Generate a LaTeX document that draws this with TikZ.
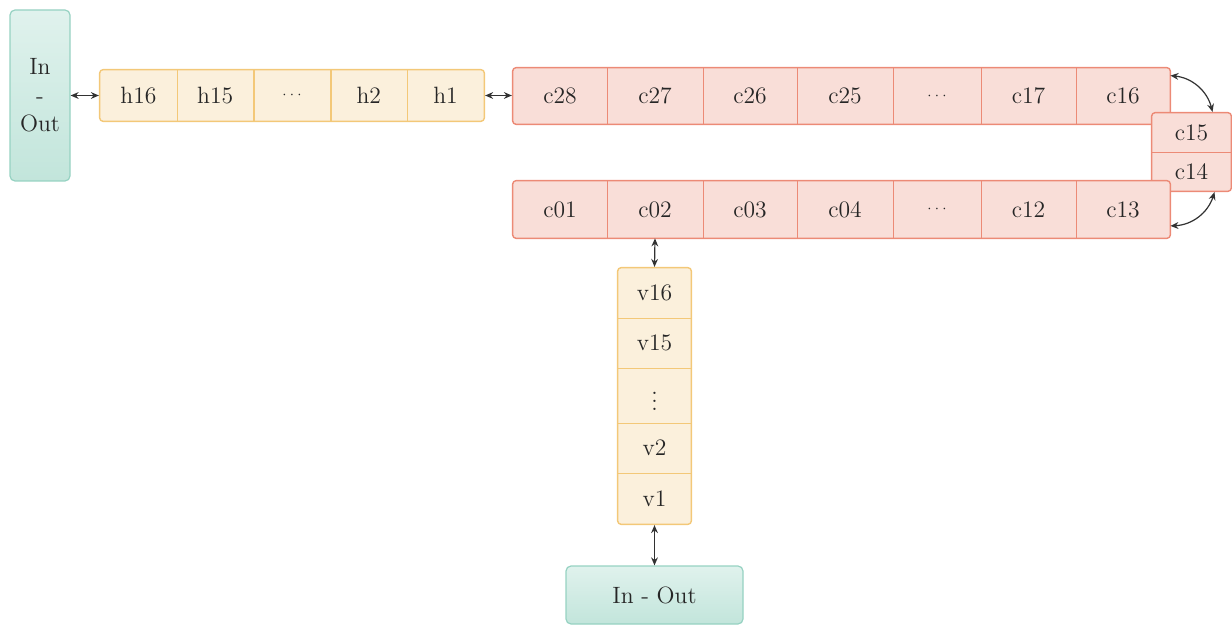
\documentclass[tikz,border=0pt]{standalone}
\usetikzlibrary{arrows.meta,fit,backgrounds}
\definecolor{ylwfill}{RGB}{251,240,220}
\definecolor{ylwdraw}{RGB}{243,200,120}
\definecolor{redfill}{RGB}{249,222,216}
\definecolor{reddraw}{RGB}{236,138,118}
\definecolor{grntop}{RGB}{224,242,237}
\definecolor{grnbot}{RGB}{194,229,219}
\definecolor{grndraw}{RGB}{150,210,194}
\definecolor{arrcol}{RGB}{50,50,50}
\newcommand{\smdots}{{\fontsize{7.5}{8}\selectfont$\cdots$}}
\begin{document}
\begin{tikzpicture}[x=0.5pt,y=-0.5pt,
  font=\fontsize{11.8}{14.2}\selectfont,
  cell/.style={inner sep=0pt, text=black!85},
  ygrp/.style={fill=ylwfill, draw=ylwdraw, line width=0.7pt, rounded corners=1.8pt, inner sep=0pt},
  rgrp/.style={fill=redfill, draw=reddraw, line width=0.7pt, rounded corners=1.8pt, inner sep=0pt},
  ydiv/.style={draw=ylwdraw, line width=0.7pt},
  rdiv/.style={draw=reddraw, line width=0.7pt},
  iobox/.style={top color=grntop, bottom color=grnbot, draw=grndraw, line width=0.6pt,
    rounded corners=2.5pt, inner sep=0pt, align=center, text=black!85},
  biarrow/.style={{Stealth[length=4pt,width=3.4pt]}-{Stealth[length=4pt,width=3.4pt]},
    line width=0.6pt, draw=arrcol},
]
\useasboundingbox (0,0) rectangle (1232,625);

% green in-out boxes
\node[iobox, minimum width=30pt, minimum height=85.5pt] (ioL) at (40,95.5) {In\\-\\Out};
\node[iobox, minimum width=88.5pt, minimum height=29pt] (ioB) at (654.5,595) {In - Out};

% horizontal yellow row
\foreach \n/\t/\x in {h16/h16/138.4, h15/h15/215.2, hd/\smdots/292, h2/h2/368.8, h1/h1/445.6}
  \node[cell, minimum width=38.4pt, minimum height=25.5pt] (\n) at (\x,95.5) {\t};

% top red row
\foreach \n/\t/\x/\w in {c28/c28/560/47, c27/c27/655/48, c26/c26/750/47, c25/c25/845/48,
    cdt/\smdots/937/44, c17/c17/1028.5/47.5, c16/c16/1123/47}
  \node[cell, minimum width=\w pt, minimum height=28pt] (\n) at (\x,96) {\t};

% bottom red row
\foreach \n/\t/\x/\w in {c01/c01/560/47, c02/c02/655/48, c03/c03/750/47, c04/c04/845/48,
    cdb/\smdots/937/44, c12/c12/1028.5/47.5, c13/c13/1123/47}
  \node[cell, minimum width=\w pt, minimum height=28.5pt] (\n) at (\x,209.5) {\t};

% turn cells
\node[cell, minimum width=39.5pt, minimum height=19.5pt] (c15) at (1191.5,132.5) {c15};
\node[cell, minimum width=39.5pt, minimum height=19.5pt] (c14) at (1191.5,171.5) {c14};

% vertical yellow column
\foreach \n/\t/\y/\h in {v16/v16/293/25, v15/v15/343/25, vd/$\vdots$/395.5/27.5, v2/v2/448/25, v1/v1/498.5/25.5}
  \node[cell, minimum width=36.5pt, minimum height=\h pt] (\n) at (654.5,\y) {\t};

\begin{scope}[on background layer]
  \node[ygrp, fit=(h16)(h1)] (hrow) {};
  \foreach \a in {h16,h15,hd,h2} \draw[ydiv] (\a.north east) -- (\a.south east);
  \node[ygrp, fit=(v16)(v1)] (vcol) {};
  \foreach \a in {v16,v15,vd,v2} \draw[ydiv] (\a.south west) -- (\a.south east);
  \node[rgrp, fit=(c28)(c16)] (ctop) {};
  \foreach \a in {c28,c27,c26,c25,cdt,c17} \draw[rdiv] (\a.north east) -- (\a.south east);
  \node[rgrp, fit=(c15)(c14)] (cturn) {};
  \draw[rdiv] (c15.south west) -- (c15.south east);
  \node[rgrp, fit=(c01)(c13)] (cbot) {};
  \foreach \a in {c01,c02,c03,c04,cdb,c12} \draw[rdiv] (\a.north east) -- (\a.south east);
\end{scope}

% connectors
\draw[biarrow] (ioL.east |- hrow.west) -- (hrow.west);
\draw[biarrow] (hrow.east) -- (hrow.east -| ctop.west);
\draw[biarrow] (c02.south) -- (vcol.north);
\draw[biarrow] (vcol.south) -- (ioB.north);
\draw[biarrow] ([yshift=-4pt]c16.north east) to[bend left=35] ([xshift=10.5pt]cturn.north);
\draw[biarrow] ([xshift=11.5pt]cturn.south) to[bend left=35] ([yshift=-8.2pt]c13.east);
\end{tikzpicture}
\end{document}
